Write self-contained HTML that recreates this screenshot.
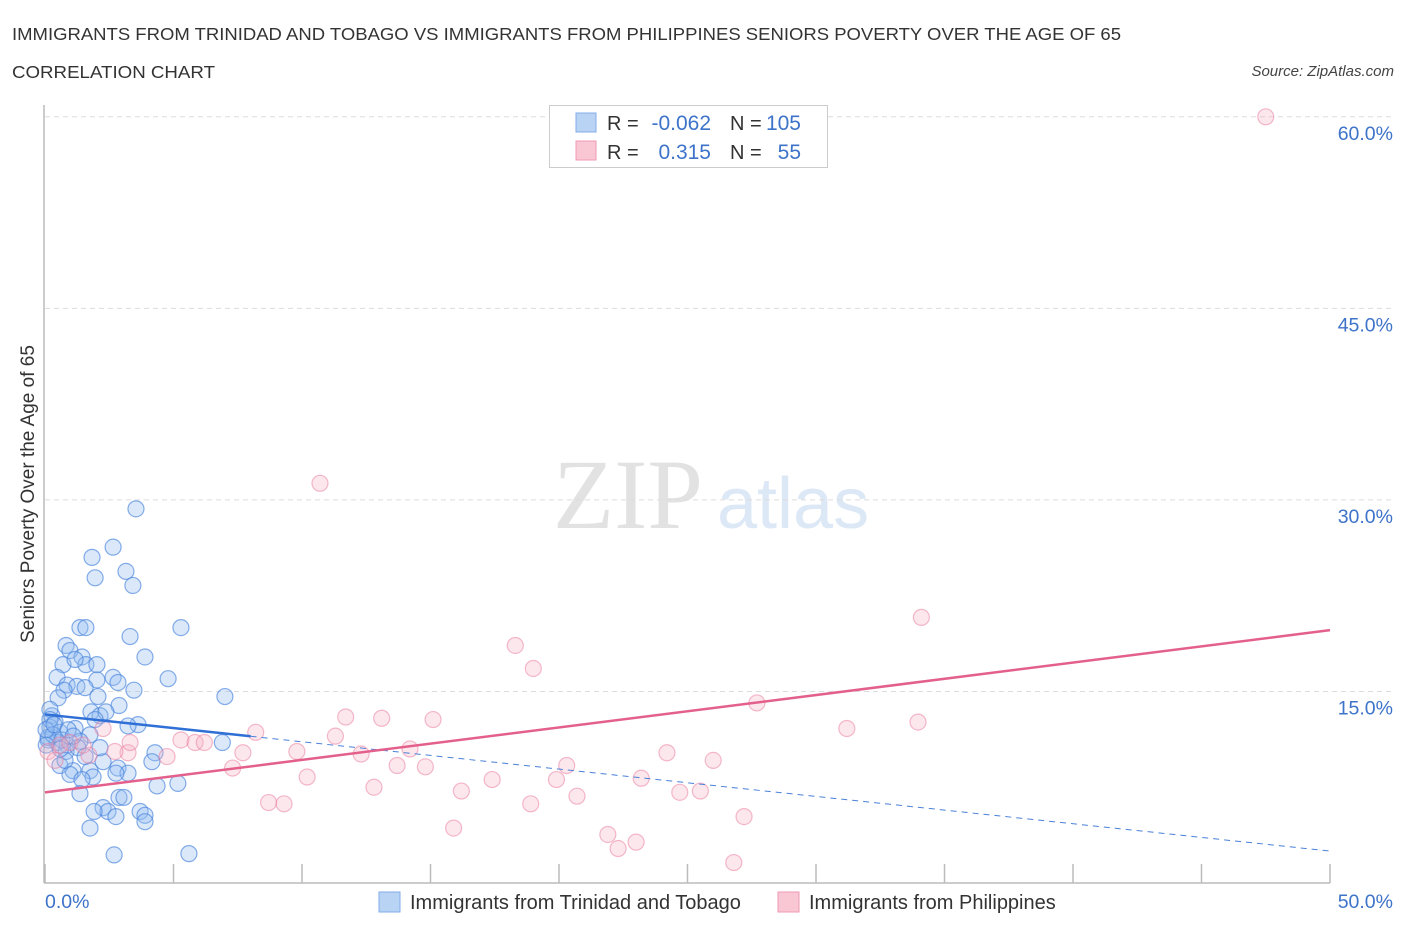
<!DOCTYPE html>
<html><head><meta charset="utf-8"><style>
body{margin:0;background:#fff;width:1406px;height:930px;overflow:hidden;font-family:"Liberation Sans",sans-serif}
svg{display:block}
</style></head><body>
<svg id="chart" width="1406" height="930" xmlns="http://www.w3.org/2000/svg">
<text x="12" y="40" font-size="17.5" fill="#333" textLength="1109" lengthAdjust="spacingAndGlyphs">IMMIGRANTS FROM TRINIDAD AND TOBAGO VS IMMIGRANTS FROM PHILIPPINES SENIORS POVERTY OVER THE AGE OF 65</text>
<text x="12" y="78" font-size="17.5" fill="#333" textLength="203" lengthAdjust="spacingAndGlyphs">CORRELATION CHART</text>
<text x="1394" y="76" font-size="15" font-style="italic" fill="#444" text-anchor="end">Source: ZipAtlas.com</text>
<g>
<text x="553" y="528" font-family="Liberation Serif,serif" font-size="100" fill="#e2e2e2">ZIP</text>
<text x="717" y="528" font-size="72" fill="#dce8f6">atlas</text>
</g>
<g id="grid"></g>
<g id="axes"></g>
<g id="pts"></g>
<g id="trend"></g>
<text transform="translate(34,494) rotate(-90)" font-size="19" fill="#333" text-anchor="middle">Seniors Poverty Over the Age of 65</text>
<g>
<rect x="549.5" y="105.5" width="278" height="62" fill="#fff" stroke="#ccc"/>
<rect x="576" y="113" width="20" height="19" fill="#b8d3f4" stroke="#82aee8"/>
<rect x="576" y="141" width="20" height="19" fill="#f9c6d4" stroke="#ee9ab3"/>
<text x="607" y="130" font-size="20" fill="#333">R =</text>
<text x="711" y="130" font-size="21" fill="#3d73c9" text-anchor="end">-0.062</text>
<text x="730" y="130" font-size="20" fill="#333">N =</text>
<text x="801" y="130" font-size="21" fill="#3d73c9" text-anchor="end">105</text>
<text x="607" y="159" font-size="20" fill="#333">R =</text>
<text x="711" y="159" font-size="21" fill="#3d73c9" text-anchor="end">0.315</text>
<text x="730" y="159" font-size="20" fill="#333">N =</text>
<text x="801" y="159" font-size="21" fill="#3d73c9" text-anchor="end">55</text>
</g>
<g>
<rect x="379" y="892" width="21" height="20" fill="#b8d3f4" stroke="#82aee8"/>
<text x="410" y="909" font-size="20" fill="#333">Immigrants from Trinidad and Tobago</text>
<rect x="778" y="892" width="21" height="20" fill="#f9c6d4" stroke="#ee9ab3"/>
<text x="809" y="909" font-size="20" fill="#333">Immigrants from Philippines</text>
</g>
</svg>
<script>
const blueX=[3.54,2.65,1.83,3.15,1.95,3.42,1.36,1.59,5.29,3.31,0.82,0.97,3.89,1.44,0.70,1.59,2.02,1.17,0.47,0.86,1.24,2.02,2.65,2.84,3.46,4.79,1.56,0.74,0.51,2.06,7.0,2.88,1.79,2.14,2.37,0.27,0.39,1.95,3.62,3.23,0.19,0.58,1.17,1.75,0.12,0.47,1.36,0.86,6.9,4.28,0.12,0.82,2.26,4.16,1.09,1.75,2.84,0.58,3.23,0.97,1.87,2.76,1.44,4.36,5.17,1.36,2.88,3.07,2.26,2.45,1.91,3.70,3.89,2.76,1.75,3.89,2.69,5.6,0.19,0.19,0.31,0.66,0.04,1.28,2.14,1.56,0.78,0.35,0.9,1.1,0.05,0.6];
const blueY=[29.3,26.3,25.5,24.4,23.9,23.3,20.0,20.0,20.0,19.3,18.6,18.2,17.7,17.7,17.1,17.1,17.1,17.5,16.1,15.5,15.4,15.9,16.1,15.7,15.1,16.0,15.3,15.1,14.5,14.6,14.6,13.9,13.4,13.1,13.4,13.1,12.6,12.8,12.4,12.3,12.2,11.8,12.1,11.6,11.2,11.0,11.1,10.8,11.0,10.2,11.4,10.3,9.5,9.5,8.8,8.8,9.0,9.2,8.6,8.5,8.3,8.6,8.1,7.6,7.8,7.0,6.7,6.7,5.9,5.6,5.6,5.6,5.3,5.2,4.3,4.8,2.2,2.3,13.6,12.8,11.6,11.2,12.0,10.6,10.6,9.9,9.6,12.4,12.0,11.5,10.8,10.5];
const pinkX=[47.5,10.7,34.1,18.3,19.0,27.7,11.7,13.1,15.1,33.97,31.2,8.2,11.3,5.29,5.84,6.2,2.26,9.8,14.2,7.7,12.3,24.2,3.23,2.72,4.75,1.71,26.0,13.7,14.8,20.3,7.3,10.2,23.2,17.4,19.9,12.8,16.2,24.7,25.5,20.7,8.7,9.3,18.9,27.2,15.9,21.9,23.0,22.3,26.8,0.12,0.58,0.97,0.39,1.48,3.31];
const pinkY=[60.0,31.3,20.8,18.6,16.8,14.1,13.0,12.9,12.8,12.6,12.1,11.8,11.5,11.2,11.0,11.0,12.1,10.3,10.5,10.2,10.1,10.2,10.2,10.3,9.9,10.0,9.6,9.2,9.1,9.2,9.0,8.3,8.2,8.1,8.1,7.5,7.2,7.1,7.2,6.8,6.3,6.2,6.2,5.2,4.3,3.8,3.2,2.7,1.6,10.3,10.8,11.0,9.6,10.8,11.0];
const blueTrend=[13.2,2.5];
const blueSolidEnd=[8.0];
const pinkTrend=[7.1,19.8];
const yTicks=[15,30,45,60];
const yTickLabels=["15.0%","30.0%","45.0%","60.0%"];
const xTicks=[0,5,10,15,20,25,30,35,40,45,50];
const xTickLabels=["0.0%","50.0%"];

const NS="http://www.w3.org/2000/svg";
const X=v=>45+v/50*1285;
const Y=v=>883-v*12.77;
function mk(parent,tag,attrs){const e=document.createElementNS(NS,tag);for(const k in attrs)e.setAttribute(k,attrs[k]);document.getElementById(parent).appendChild(e);return e;}

yTicks.forEach((t,i)=>{
  const l=mk('grid','line',{x1:45,x2:1395,y1:Y(t),y2:Y(t),stroke:'#dcdcdc','stroke-dasharray':'5,4'});
  
  
  const tx=mk('grid','text',{x:1393,y:Y(t)+23,'font-size':19.5,fill:'#3d73c9','text-anchor':'end'});
  tx.textContent=yTickLabels[i];
  
  
});
const ax=mk('axes','line',{x1:44,x2:44,y1:105,y2:883,stroke:'#bbb','stroke-width':1.5});


const xa=mk('axes','line',{x1:44,x2:1330,y1:883,y2:883,stroke:'#bbb','stroke-width':1.5});


xTicks.forEach(t=>{
  const l=mk('axes','line',{x1:X(t),x2:X(t),y1:864,y2:883,stroke:'#bbb','stroke-width':1.5});
  
  
});
const xl0=mk('axes','text',{x:45,y:908,'font-size':19.5,fill:'#3d73c9'});
xl0.textContent=xTickLabels[0];


const xl1=mk('axes','text',{x:1393,y:908,'font-size':19.5,fill:'#3d73c9','text-anchor':'end'});
xl1.textContent=xTickLabels[1];



blueX.forEach((v,i)=>{
  const c=mk('pts','circle',{cx:X(v),cy:Y(blueY[i]),r:8,fill:'rgba(150,190,240,0.35)',stroke:'rgba(70,130,220,0.65)','stroke-width':1.2});
  
  
});
pinkX.forEach((v,i)=>{
  const c=mk('pts','circle',{cx:X(v),cy:Y(pinkY[i]),r:8,fill:'rgba(246,175,196,0.3)',stroke:'rgba(234,120,155,0.5)','stroke-width':1.2});
  
  
});
const by=x=>blueTrend[0]+(blueTrend[1]-blueTrend[0])*x/50;
const bs=mk('trend','line',{x1:X(0),y1:Y(by(0)),x2:X(blueSolidEnd[0]),y2:Y(by(blueSolidEnd[0])),stroke:'#2f6fd6','stroke-width':2.5});


const bd=mk('trend','line',{x1:X(blueSolidEnd[0]),y1:Y(by(blueSolidEnd[0])),x2:X(50),y2:Y(by(50)),stroke:'#4a80d8','stroke-width':1,'stroke-dasharray':'6,5'});


const pl=mk('trend','line',{x1:X(0),y1:Y(pinkTrend[0]),x2:X(50),y2:Y(pinkTrend[1]),stroke:'#e4608c','stroke-width':2.5});


</script>
</body></html>
